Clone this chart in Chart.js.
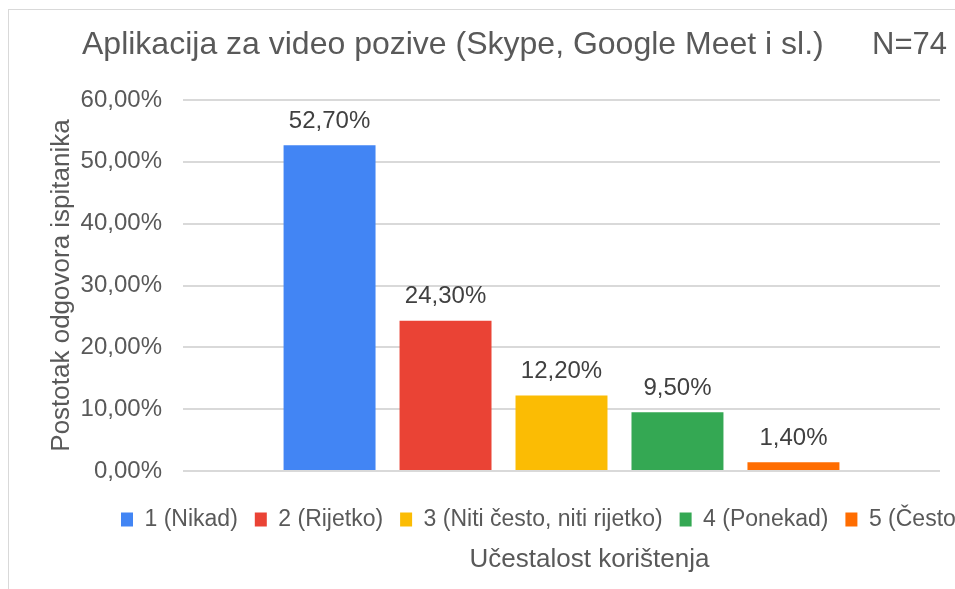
<!DOCTYPE html>
<html lang="hr">
<head>
<meta charset="utf-8">
<title>Aplikacija za video pozive</title>
<script src="https://cdn.jsdelivr.net/npm/chart.js@4.4.1/dist/chart.umd.min.js"></script>
<style>
  html, body { margin: 0; padding: 0; background: #fff; overflow: hidden; }
  #okvir {
    position: absolute; left: 8px; top: 9px;
    width: 947px; height: 580px;
    border-left: 1px solid #d9d9d9; border-top: 1px solid #d9d9d9;
  }
  #grafikon { display: block; }
</style>
</head>
<body>
<div id="okvir"><canvas id="grafikon" width="946" height="579"></canvas></div>
<script>
// ==========================
// PODACI
// ==========================
const kategorije = [
  "1 (Nikad)",
  "2 (Rijetko)",
  "3 (Niti često, niti rijetko)",
  "4 (Ponekad)",
  "5 (Često)",
];
const postoci = [52.7, 24.3, 12.2, 9.5, 1.4];
const boje = ["#4285F4", "#EA4335", "#FBBC04", "#34A853", "#FF6D01"];

const naslov = "Aplikacija za video pozive (Skype, Google Meet i sl.)";
const oznakaN = "N=74";
const naslovOsiX = "Učestalost korištenja";
const naslovOsiY = "Postotak odgovora ispitanika";
const yMin = 0;
const yMax = 60;
const yKorak = 10;

const FONT = "'Liberation Sans', Arial, Helvetica, sans-serif";
const SIVA = "#595959";

function formatPostotak(v) {
  return Number(v).toFixed(2).replace(".", ",") + "%";
}

// ==========================
// PLUGIN: naslov, oznake, pomak legende
// ==========================
const tekstoviPlugin = {
  id: "tekstovi",
  afterLayout(chart) {
    // legenda u originalu nije centrirana na platnu
    chart.legend.left += 95;
    chart.legend.right += 95;
  },
  afterDatasetsDraw(chart) {
    const ctx = chart.ctx;
    ctx.save();
    ctx.font = "24px " + FONT;
    ctx.fillStyle = "#404040";
    ctx.textAlign = "center";
    ctx.textBaseline = "middle";
    chart.data.datasets.forEach((ds, i) => {
      const meta = chart.getDatasetMeta(i);
      meta.data.forEach((bar, j) => {
        ctx.fillText(formatPostotak(ds.data[j]), bar.x, bar.y - 24);
      });
    });
    ctx.restore();
  },
  afterDraw(chart) {
    const ctx = chart.ctx;
    ctx.save();
    ctx.fillStyle = SIVA;
    ctx.textBaseline = "alphabetic";
    ctx.textAlign = "left";
    ctx.font = "32px " + FONT;
    ctx.fillText(naslov, 73, 44);
    ctx.font = "31px " + FONT;
    ctx.fillText(oznakaN, 863, 44);

    ctx.textAlign = "center";
    ctx.font = "26px " + FONT;
    const sredina = (chart.chartArea.left + chart.chartArea.right) / 2;
    ctx.fillText(naslovOsiX, sredina + 28, 557);
    ctx.restore();
  },
};

// ==========================
// GRAFIKON
// ==========================
const datasets = kategorije.map((naziv, i) => ({
  label: naziv,
  data: [postoci[i]],
  backgroundColor: boje[i],
  borderWidth: 0,
  barPercentage: 0.793,
  categoryPercentage: 0.766,
}));

new Chart(document.getElementById("grafikon"), {
  type: "bar",
  data: {
    labels: [""],
    datasets,
  },
  plugins: [tekstoviPlugin],
  options: {
    responsive: false,
    animation: false,
    layout: {
      padding: { top: 90, bottom: 48, left: 0, right: 15 },
    },
    plugins: {
      title: { display: false },
      tooltip: { enabled: false },
      legend: {
        display: true,
        position: "bottom",
        align: "start",
        labels: {
          color: SIVA,
          font: { size: 23, family: FONT },
          boxWidth: 12,
          boxHeight: 14,
          padding: 17,
        },
      },
    },
    scales: {
      x: {
        ticks: { display: false },
        grid: { display: false, drawTicks: false },
        border: { display: false },
        afterFit(scale) {
          scale.height = 20;
        },
      },
      y: {
        min: yMin,
        max: yMax,
        ticks: {
          stepSize: yKorak,
          padding: 21,
          color: SIVA,
          font: { size: 24, family: FONT },
          callback: (v) => formatPostotak(v),
        },
        grid: {
          color: "#d9d9d9",
          lineWidth: 2,
          drawTicks: false,
        },
        border: { display: false },
        title: {
          display: true,
          text: naslovOsiY,
          color: SIVA,
          font: { size: 26, family: FONT },
          padding: { top: 37, bottom: 0 },
        },
        afterFit(scale) {
          scale.width = 174;
        },
      },
    },
  },
});
</script>
</body>
</html>
